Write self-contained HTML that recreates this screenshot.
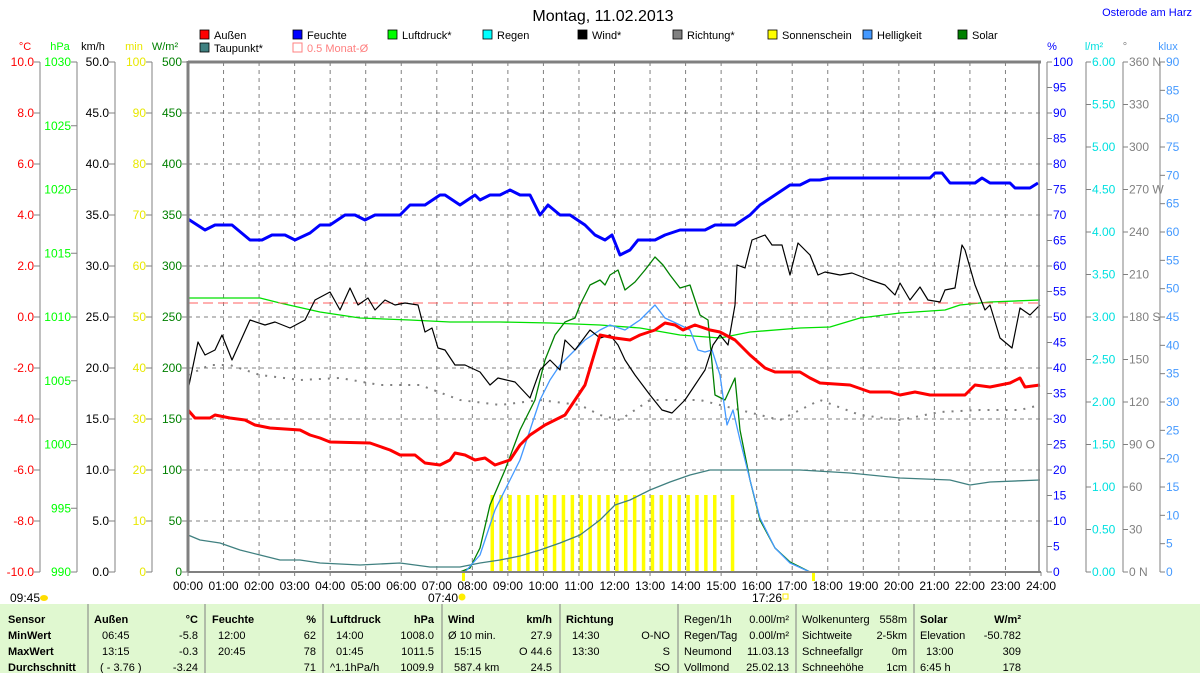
<!DOCTYPE html>
<html><head><meta charset="utf-8"><style>
html,body{margin:0;padding:0;background:#fff;}
svg{display:block;font-family:"Liberation Sans",sans-serif;}
</style></head><body>
<svg id="s" width="1200" height="673" viewBox="0 0 1200 673" xmlns="http://www.w3.org/2000/svg">
<rect x="0" y="0" width="1200" height="673" fill="#fff"/>
<text x="603" y="21" font-size="16" text-anchor="middle" fill="#000">Montag, 11.02.2013</text>
<text x="1192" y="16" font-size="11" text-anchor="end" fill="#0000ff">Osterode am Harz</text>
<g id="leg" font-size="11"></g>
<g id="grid"></g>
<g id="bars" fill="#ffff00"></g>
<g fill="none" stroke-linejoin="round">
<polyline stroke="#808080" stroke-width="2" stroke-dasharray="2 7" points="188,375 210,365 230,365 260,375 300,380 340,378 380,385 420,385 460,400 500,405 540,400 580,405 600,415 620,420 650,400 700,400 740,410 780,420 820,400 860,415 900,420 940,412 980,410 1020,410 1040,405"/>
<polyline stroke="#408080" stroke-width="1.3" points="188,535 200,540 220,543 240,550 260,555 280,560 300,560 320,563 360,565 400,563 430,567 460,567 480,563 500,560 520,556 540,550 560,543 580,535 600,520 615,505 630,500 650,490 670,482 690,475 710,470 740,470 800,470 850,473 900,478 950,480 970,485 990,482 1040,480"/>
<polyline stroke="#00e000" stroke-width="1.3" points="188,298 260,298 280,303 320,312 360,318 410,320 450,322 500,322 550,323 600,325 640,328 680,335 720,338 750,332 800,328 830,327 860,318 900,313 945,310 960,305 990,302 1040,300"/>
<line x1="188" y1="303" x2="1040" y2="303" stroke="#ff6060" stroke-width="1" stroke-dasharray="10 5"/>
<polyline stroke="#008000" stroke-width="1.3" points="460,572 470,568 480,548 490,505 505,470 520,430 535,400 545,360 555,335 565,322 575,318 580,305 590,285 600,280 605,285 610,275 618,270 625,290 635,282 645,270 655,257 663,265 670,275 680,288 690,285 700,315 708,320 715,395 725,400 735,378 740,430 750,480 760,520 775,548 790,562 810,572"/>
<polyline stroke="#4499ff" stroke-width="1.3" points="465,572 480,555 495,510 510,480 520,460 530,430 540,400 550,380 560,365 570,355 585,340 600,330 610,325 625,330 640,320 655,305 665,318 680,325 690,330 698,350 705,352 712,350 720,375 727,425 733,410 740,440 750,480 760,518 775,548 790,563 810,572"/>
<polyline stroke="#000" stroke-width="1.2" points="188,390 198,342 205,355 215,350 222,335 232,360 250,320 265,325 275,322 290,328 305,320 315,300 330,292 340,310 350,288 358,305 368,298 375,310 385,300 395,305 405,303 418,305 425,332 432,328 438,348 445,350 455,365 465,365 480,372 490,385 498,378 515,382 530,398 540,370 550,360 560,370 565,340 575,350 590,330 600,338 610,335 618,345 625,360 635,375 650,395 662,410 672,413 685,400 695,385 705,370 713,345 720,335 728,345 735,305 737,265 745,268 752,240 765,235 772,245 782,245 790,275 798,243 810,255 818,275 825,272 840,275 852,273 870,280 885,285 895,295 900,283 910,300 920,287 928,300 940,302 945,290 955,288 962,245 965,250 975,285 985,310 990,305 1000,338 1012,348 1020,308 1030,315 1040,305"/>
<polyline stroke="#ff0000" stroke-width="3" points="188,410 195,418 210,418 215,415 230,418 245,420 255,425 270,428 300,430 310,435 320,438 330,442 370,443 390,450 400,455 415,455 425,463 440,465 450,460 455,453 465,455 475,460 485,458 495,465 510,460 520,445 530,435 545,425 555,420 565,415 575,400 585,385 600,335 615,338 630,340 640,335 655,330 665,323 675,325 683,330 695,325 710,330 720,332 735,340 750,355 765,368 775,372 800,372 810,378 820,383 850,385 870,392 890,392 900,395 915,392 930,395 965,395 975,385 990,387 1010,383 1020,378 1025,387 1040,385"/>
<polyline stroke="#0000ff" stroke-width="3" points="188,219 205,230 215,225 232,225 250,240 262,240 272,235 285,235 295,240 310,233 320,225 330,225 345,215 355,215 365,220 375,215 400,215 410,205 425,205 440,195 445,195 460,205 475,195 480,200 490,195 500,195 510,190 520,195 530,195 540,215 548,205 560,215 570,215 585,225 595,235 605,240 612,235 620,255 630,250 638,240 655,240 665,235 680,230 705,230 715,225 735,225 750,215 760,205 775,195 790,185 800,185 810,180 820,180 830,178 930,178 935,173 942,173 950,183 975,183 982,178 990,183 1010,183 1015,188 1030,188 1038,183"/>
</g>
<g id="frame"></g>
<g id="axes" font-size="12"></g>
<rect x="0" y="604" width="1200" height="69" fill="#e0f8d0"/>
<g stroke="#808080" stroke-width="1">
<line x1="88" y1="604" x2="88" y2="673"/><line x1="205" y1="604" x2="205" y2="673"/><line x1="323" y1="604" x2="323" y2="673"/><line x1="442" y1="604" x2="442" y2="673"/><line x1="560" y1="604" x2="560" y2="673"/><line x1="678" y1="604" x2="678" y2="673"/><line x1="796" y1="604" x2="796" y2="673"/><line x1="914" y1="604" x2="914" y2="673"/>
</g>
<g font-size="11" fill="#000">
<g font-weight="bold"><text x="8" y="623">Sensor</text><text x="8" y="639">MinWert</text><text x="8" y="655">MaxWert</text><text x="8" y="671">Durchschnitt</text>
<text x="94" y="623">Außen</text><text x="198" y="623" text-anchor="end">°C</text>
<text x="212" y="623">Feuchte</text><text x="316" y="623" text-anchor="end">%</text>
<text x="330" y="623">Luftdruck</text><text x="434" y="623" text-anchor="end">hPa</text>
<text x="448" y="623">Wind</text><text x="552" y="623" text-anchor="end">km/h</text>
<text x="566" y="623">Richtung</text>
<text x="920" y="623">Solar</text><text x="1021" y="623" text-anchor="end">W/m²</text></g>
<text x="102" y="639">06:45</text><text x="198" y="639" text-anchor="end">-5.8</text>
<text x="102" y="655">13:15</text><text x="198" y="655" text-anchor="end">-0.3</text>
<text x="100" y="671">( - 3.76 )</text><text x="198" y="671" text-anchor="end">-3.24</text>
<text x="218" y="639">12:00</text><text x="316" y="639" text-anchor="end">62</text>
<text x="218" y="655">20:45</text><text x="316" y="655" text-anchor="end">78</text>
<text x="316" y="671" text-anchor="end">71</text>
<text x="336" y="639">14:00</text><text x="434" y="639" text-anchor="end">1008.0</text>
<text x="336" y="655">01:45</text><text x="434" y="655" text-anchor="end">1011.5</text>
<text x="330" y="671">^1.1hPa/h</text><text x="434" y="671" text-anchor="end">1009.9</text>
<text x="448" y="639">Ø 10 min.</text><text x="552" y="639" text-anchor="end">27.9</text>
<text x="454" y="655">15:15</text><text x="552" y="655" text-anchor="end">O 44.6</text>
<text x="454" y="671">587.4 km</text><text x="552" y="671" text-anchor="end">24.5</text>
<text x="572" y="639">14:30</text><text x="670" y="639" text-anchor="end">O-NO</text>
<text x="572" y="655">13:30</text><text x="670" y="655" text-anchor="end">S</text>
<text x="670" y="671" text-anchor="end">SO</text>
<text x="684" y="623">Regen/1h</text><text x="789" y="623" text-anchor="end">0.00l/m²</text>
<text x="684" y="639">Regen/Tag</text><text x="789" y="639" text-anchor="end">0.00l/m²</text>
<text x="684" y="655">Neumond</text><text x="789" y="655" text-anchor="end">11.03.13</text>
<text x="684" y="671">Vollmond</text><text x="789" y="671" text-anchor="end">25.02.13</text>
<text x="802" y="623">Wolkenunterg</text><text x="907" y="623" text-anchor="end">558m</text>
<text x="802" y="639">Sichtweite</text><text x="907" y="639" text-anchor="end">2-5km</text>
<text x="802" y="655">Schneefallgr</text><text x="907" y="655" text-anchor="end">0m</text>
<text x="802" y="671">Schneehöhe</text><text x="907" y="671" text-anchor="end">1cm</text>
<text x="920" y="639">Elevation</text><text x="1021" y="639" text-anchor="end">-50.782</text>
<text x="926" y="655">13:00</text><text x="1021" y="655" text-anchor="end">309</text>
<text x="920" y="671">6:45 h</text><text x="1021" y="671" text-anchor="end">178</text>
</g>
<g font-size="12">
<text x="10" y="602">09:45</text><ellipse cx="44" cy="598" rx="4" ry="3" fill="#ffdd00"/>
<text x="428" y="602">07:40</text><circle cx="462" cy="597" r="3.5" fill="#ffee00"/>
<text x="752" y="602">17:26</text><rect x="783" y="594" width="5" height="5" fill="none" stroke="#ffee00"/>
</g>
</svg>
<script>
const NS="http://www.w3.org/2000/svg";
function el(p,t,a,txt){const e=document.createElementNS(NS,t);for(const k in a)e.setAttribute(k,a[k]);if(txt!==undefined)e.textContent=txt;document.getElementById(p).appendChild(e);return e;}
const X0=188,X1=1041,Y0=62,Y1=572,H=(X1-X0)/24;
// grid
for(let i=1;i<24;i++){const x=X0+i*H;el("grid","line",{x1:x,y1:Y0,x2:x,y2:Y1,stroke:"#808080","stroke-dasharray":"4 4","stroke-width":1});}
for(let j=1;j<10;j++){const y=Y0+j*51;el("grid","line",{x1:X0,y1:y,x2:X1,y2:y,stroke:"#808080","stroke-dasharray":"4 4","stroke-width":1});}
// sunshine bars
for(let k=0;k<=27;k++){if(k==26)continue;el("bars","rect",{x:492+k*8.9-1.5,y:495,width:3.5,height:77});}
el("bars","rect",{x:462,y:572,width:3,height:9});
el("bars","rect",{x:812,y:572,width:3,height:9});
// frame
el("frame","line",{x1:X0,y1:Y0,x2:X1,y2:Y0,stroke:"#808080","stroke-width":3});
el("frame","line",{x1:X0,y1:Y0-1,x2:X0,y2:Y1,stroke:"#808080","stroke-width":3});
el("frame","line",{x1:X0,y1:Y1,x2:X1,y2:Y1,stroke:"#808080","stroke-width":2});
el("frame","line",{x1:X1-2,y1:Y0,x2:X1-2,y2:Y1,stroke:"#808080","stroke-width":1.5});
for(let i=0;i<=24;i++){const x=X0+i*H;el("frame","line",{x1:x,y1:Y1,x2:x,y2:Y1+4,stroke:"#808080"});
el("axes","text",{x:x,y:590,"text-anchor":"middle",fill:"#000"},(i<10?"0":"")+i+":00");}
// left axes
function laxis(lx,ex,color,labels,unit,ux){el("frame","line",{x1:lx,y1:Y0,x2:lx,y2:Y1,stroke:"#808080"});
 const n=labels.length-1;labels.forEach((l,i)=>{const y=Y0+i*(Y1-Y0)/n;el("frame","line",{x1:lx-6,y1:y,x2:lx,y2:y,stroke:"#808080"});el("axes","text",{x:ex,y:y+4,"text-anchor":"end",fill:color},l);});
 el("axes","text",{x:ux,y:50,"text-anchor":"middle",fill:color,"font-size":11},unit);}
laxis(40,34,"#ff0000",["10.0","8.0","6.0","4.0","2.0","0.0","-2.0","-4.0","-6.0","-8.0","-10.0"],"°C",25);
laxis(77,71,"#00ff00",["1030","1025","1020","1015","1010","1005","1000","995","990"],"hPa",60);
laxis(115,109,"#000",["50.0","45.0","40.0","35.0","30.0","25.0","20.0","15.0","10.0","5.0","0.0"],"km/h",93);
laxis(152,146,"#e8e800",["100","90","80","70","60","50","40","30","20","10","0"],"min",134);
(function(){const l=["500","450","400","350","300","250","200","150","100","50","0"];l.forEach((t,i)=>{const y=Y0+i*51;el("frame","line",{x1:X0-6,y1:y,x2:X0,y2:y,stroke:"#808080"});el("axes","text",{x:182,y:y+4,"text-anchor":"end",fill:"#008000"},t);});el("axes","text",{x:165,y:50,"text-anchor":"middle",fill:"#008000","font-size":11},"W/m²");})();
// right axes
function raxis(lx,color,labels,unit,ux){el("frame","line",{x1:lx,y1:Y0,x2:lx,y2:Y1,stroke:"#808080"});
 const n=labels.length-1;labels.forEach((l,i)=>{const y=Y0+i*(Y1-Y0)/n;el("frame","line",{x1:lx,y1:y,x2:lx+5,y2:y,stroke:"#808080"});el("axes","text",{x:lx+6,y:y+4,fill:color},l);});
 el("axes","text",{x:ux,y:50,"text-anchor":"middle",fill:color,"font-size":11},unit);}
let pc=[];for(let v=100;v>=0;v-=5)pc.push(String(v));raxis(1047,"#0000ff",pc,"%",1052);
let rr=[];for(let v=6;v>=0;v-=0.5)rr.push(v.toFixed(2));raxis(1086,"#00e0e0",rr,"l/m²",1094);
raxis(1123,"#808080",["360 N","330","300","270 W","240","210","180 S","150","120","90  O","60","30","0   N"],"°",1125);
let kl=[];for(let v=90;v>=0;v-=5)kl.push(String(v));raxis(1160,"#4499ff",kl,"klux",1168);
// legend
const L=[["Außen","#ff0000",200,38],["Feuchte","#0000ff",293,38],["Luftdruck*","#00ff00",388,38],["Regen","#00ffff",483,38],["Wind*","#000000",578,38],["Richtung*","#808080",673,38],["Sonnenschein","#ffff00",768,38],["Helligkeit","#4499ff",863,38],["Solar","#008000",958,38],["Taupunkt*","#408080",200,51]];
L.forEach(([t,c,x,y])=>{el("leg","rect",{x:x,y:y-8,width:9,height:9,fill:c,stroke:"#000","stroke-width":0.8});el("leg","text",{x:x+14,y:y+1,fill:"#000"},t);});
el("leg","rect",{x:293,y:43,width:9,height:9,fill:"none",stroke:"#ff8080","stroke-width":1});
el("leg","text",{x:307,y:52,fill:"#ff8080"},"0.5 Monat-Ø");
</script>
</body></html>
